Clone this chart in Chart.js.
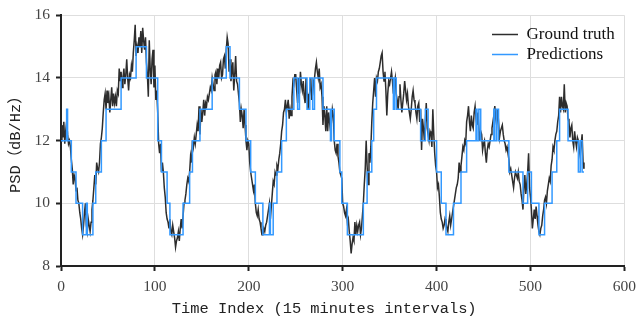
<!DOCTYPE html>
<html>
<head>
<meta charset="utf-8">
<script src="https://cdn.jsdelivr.net/npm/chart.js@4/dist/chart.umd.min.js"></script>
<style>
  html, body { margin: 0; padding: 0; background: #ffffff; }
  #wrap { width: 643px; height: 320px; }
</style>
</head>
<body>
<div id="wrap"><canvas id="psd" width="643" height="320"></canvas></div>
<script>
// Measured PSD, one value per 15-minute interval
const groundTruth = [
  12.0,12.5,12.1,12.6,11.9,12.3,12.6,12.2,11.9,12.0,
  11.8,11.4,11.1,10.6,10.9,10.8,10.4,10.5,10.1,10.0,
  9.7,9.5,9.2,9.0,9.3,9.7,10.0,9.3,9.1,9.5,
  9.3,9.1,9.4,9.8,10.1,10.5,10.9,10.6,11.3,11.1,
  11.0,11.3,11.9,12.1,12.4,12.9,13.3,13.5,13.0,13.6,
  13.2,13.4,12.9,13.3,13.7,13.1,13.5,13.2,13.4,13.1,
  13.6,13.5,14.3,13.9,14.2,13.7,14.0,14.3,13.8,14.1,
  14.6,14.0,13.6,14.1,14.0,14.4,14.2,14.8,15.2,15.7,
  14.7,15.0,14.8,15.3,15.0,15.5,14.8,15.6,15.2,14.9,
  15.3,14.5,14.1,13.4,15.2,14.3,13.8,14.6,14.9,13.7,
  14.4,13.3,13.6,12.9,11.9,11.6,11.9,11.0,11.3,11.0,
  10.5,10.2,9.7,9.5,9.4,9.2,9.5,9.1,9.0,9.3,
  9.1,8.9,8.6,8.8,8.9,9.1,8.8,9.2,9.5,9.2,
  9.6,10.0,10.1,10.3,10.6,10.8,10.7,11.0,11.5,11.3,
  12.0,11.8,12.1,11.9,12.2,12.5,12.3,13.1,12.2,13.0,
  12.6,12.9,13.3,12.8,13.2,13.1,13.4,13.3,13.5,13.7,
  13.6,14.0,13.8,13.6,14.1,14.2,13.8,14.3,14.0,14.4,
  14.5,14.0,14.1,14.6,14.7,14.3,14.9,15.3,15.1,14.2,
  14.6,13.9,14.2,14.5,13.6,14.1,14.7,13.9,13.8,13.5,
  13.2,12.6,13.0,12.8,12.4,13.0,12.5,12.0,11.7,12.0,
  11.9,11.3,11.0,10.8,10.6,10.4,10.6,10.0,9.7,9.6,
  9.8,9.5,9.4,9.2,9.0,9.0,9.2,9.1,9.3,9.4,
  9.6,9.8,10.0,9.5,9.9,10.3,10.7,10.6,11.0,10.9,
  11.2,11.1,11.4,11.6,11.9,12.3,12.5,12.9,13.0,13.3,
  12.9,13.1,13.3,12.7,13.0,12.8,13.4,13.9,13.8,14.1,
  14.1,13.6,13.2,14.0,13.5,14.2,13.8,13.6,13.9,13.4,
  13.2,14.0,13.5,13.0,13.3,13.6,14.0,13.3,13.5,13.9,
  14.0,14.3,14.5,14.2,14.0,14.3,13.7,13.8,13.4,12.5,
  13.1,12.8,12.3,13.1,12.3,12.9,12.6,12.3,12.6,13.0,
  12.8,12.0,11.7,11.6,11.9,11.5,11.3,11.0,10.9,10.8,
  10.0,9.9,9.7,9.6,9.8,9.4,9.5,9.1,8.8,8.4,
  8.7,8.9,8.8,9.4,9.0,9.3,9.1,9.3,9.4,9.0,
  9.2,9.6,10.0,10.6,11.1,12.0,11.2,10.6,11.6,11.3,
  11.8,12.6,13.2,13.6,14.0,13.4,14.0,13.9,14.2,14.3,
  14.5,14.7,14.8,14.2,13.9,14.2,13.6,12.8,13.5,13.9,
  13.8,14.0,14.2,13.9,13.5,13.8,14.0,13.5,13.3,13.0,
  13.4,13.8,13.3,12.9,13.2,13.5,13.9,13.6,13.3,13.5,
  13.1,12.9,12.7,13.0,13.4,13.6,13.3,13.2,12.9,12.7,
  13.1,13.2,12.6,13.0,11.7,12.7,12.4,12.0,12.6,13.2,
  12.4,12.2,12.0,12.3,12.2,11.8,13.0,12.2,11.6,11.2,
  11.0,10.5,10.6,10.2,9.7,9.5,9.4,9.2,9.3,9.5,
  9.4,9.2,9.1,9.4,9.6,9.3,9.5,9.7,9.9,10.1,
  10.3,10.5,10.6,10.8,11.3,11.0,11.2,11.5,11.8,11.7,
  12.0,11.9,12.6,12.8,13.1,12.6,12.3,12.8,12.5,12.4,
  12.9,13.1,12.7,12.5,12.9,12.4,12.0,12.3,12.2,11.7,
  11.9,12.0,11.6,11.3,11.7,11.9,11.8,12.0,12.2,12.4,
  12.6,12.8,13.1,12.7,12.5,13.0,12.6,12.1,12.3,12.4,
  12.5,12.2,12.0,11.9,11.7,11.8,11.6,11.4,11.0,11.1,
  10.9,10.7,10.5,10.8,11.0,10.9,10.8,11.0,10.7,10.6,
  10.3,10.1,9.8,10.5,10.9,10.3,10.6,11.0,11.6,10.5,
  10.2,9.8,9.2,9.5,9.8,9.5,9.9,9.6,9.3,9.1,
  9.0,9.2,9.3,9.6,9.8,10.1,10.2,10.0,10.4,10.6,
  10.8,10.7,11.2,11.4,11.8,11.7,12.0,12.2,12.3,12.6,
  12.8,13.4,12.9,13.4,13.1,13.0,13.8,12.9,13.2,13.1,
  12.7,12.6,12.1,12.4,12.5,12.0,11.8,12.3,12.0,11.8,
  12.1,12.0,11.7,11.5,11.9,12.2,11.3,11.1
];

// Predicted level: index where a new level starts, and that level
const predChangeIndex = [
  0,6,7,11,16,23,27,28,34,37,43,48,64,80,91,
  103,107,113,116,130,137,140,148,161,176,180,190,197,
  202,207,215,222,223,226,230,235,240,248,252,254,262,265,268,270,279,287,288,291,297,299,
  305,322,326,331,333,336,354,355,357,383,388,391,400,
  405,410,418,426,432,442,443,445,447,461,462,464,466,477,492,497,
  501,509,515,523,528,531,540,551,553,555,557
];
const predLevel = [
  12,13,12,11,10,9,10,9,10,11,12,13,14,15,14,
  12,11,10,9,10,11,12,13,14,15,14,13,12,
  11,10,9,10,9,10,11,12,13,14,13,14,13,14,13,14,13,12,13,12,11,10,
  9,10,11,12,13,14,13,14,13,12,13,12,11,
  10,9,10,11,12,13,12,13,12,13,12,13,12,11,10,11,
  10,9,10,11,12,13,12,11,12,11,11
];

const seriesNames = ['Ground truth', 'Predictions'];
const xTickValues = [0, 100, 200, 300, 400, 500, 600];
const yTickValues = [8, 10, 12, 14, 16];
const xAxisTitle = 'Time Index (15 minutes intervals)    ';
const yAxisTitle = 'PSD（dB/Hz）';

const truthPoints = groundTruth.map((v, i) => ({ x: i, y: v }));
const predPoints = predChangeIndex.map((x, i) => ({ x: x, y: predLevel[i] }));

const serif = "'Liberation Serif', 'Times New Roman', serif";
const mono = "'Liberation Mono', 'Noto Sans CJK SC', monospace";

// Places the legend in the upper-right corner of the plot area
const legendCorner = {
  id: 'legendCorner',
  afterLayout(chart) {
    const lg = chart.legend;
    if (!lg) return;
    const w = lg.width, h = lg.height;
    lg.left = 489; lg.right = lg.left + w;
    lg.top = 23; lg.bottom = lg.top + h;
  }
};

new Chart(document.getElementById('psd'), {
  type: 'line',
  data: {
    datasets: [
      {
        label: seriesNames[0],
        data: truthPoints,
        borderColor: '#2d2d2d',
        backgroundColor: '#2d2d2d',
        borderWidth: 1.5,
        pointRadius: 0,
        pointStyle: 'line',
        tension: 0,
        order: 1
      },
      {
        label: seriesNames[1],
        data: predPoints,
        borderColor: '#3399ff',
        backgroundColor: '#3399ff',
        borderWidth: 1.5,
        pointRadius: 0,
        pointStyle: 'line',
        stepped: 'before',
        tension: 0,
        order: 0
      }
    ]
  },
  options: {
    responsive: false,
    animation: false,
    devicePixelRatio: 1,
    layout: { padding: { left: 0, right: 17, top: 15, bottom: 0 } },
    plugins: {
      tooltip: { enabled: false },
      legend: {
        position: 'chartArea',
        align: 'start',
        labels: {
          usePointStyle: true,
          pointStyleWidth: 26,
          padding: 3,
          color: '#111',
          font: { family: serif, size: 17 },
          sort: (a, b) => a.datasetIndex - b.datasetIndex
        }
      }
    },
    scales: {
      x: {
        type: 'linear',
        min: 0,
        max: 600,
        afterBuildTicks: (s) => { s.ticks = xTickValues.map(v => ({ value: v })); },
        afterFit: (s) => { s.height = 54; },
        grid: { color: '#dedede', lineWidth: 1, tickColor: '#222', tickLength: 5, tickWidth: 2 },
        border: { color: '#222', width: 2 },
        ticks: { color: '#444', padding: 7, maxRotation: 0, font: { family: serif, size: 15.5 } },
        title: { display: true, text: xAxisTitle, color: '#222', padding: { top: 0, bottom: 2 }, font: { family: mono, size: 15.4 } }
      },
      y: {
        min: 8,
        max: 16,
        afterBuildTicks: (s) => { s.ticks = yTickValues.map(v => ({ value: v })); },
        afterFit: (s) => { s.width = 61; },
        grid: { color: '#dedede', lineWidth: 1, tickColor: '#222', tickLength: 5, tickWidth: 2 },
        border: { color: '#222', width: 2 },
        ticks: { color: '#444', padding: 6, font: { family: serif, size: 15.5 } },
        title: { display: true, text: yAxisTitle, color: '#222', padding: { top: 7, bottom: 0 }, font: { family: mono, size: 15.4 } }
      }
    }
  },
  plugins: [legendCorner]
});
</script>
</body>
</html>
